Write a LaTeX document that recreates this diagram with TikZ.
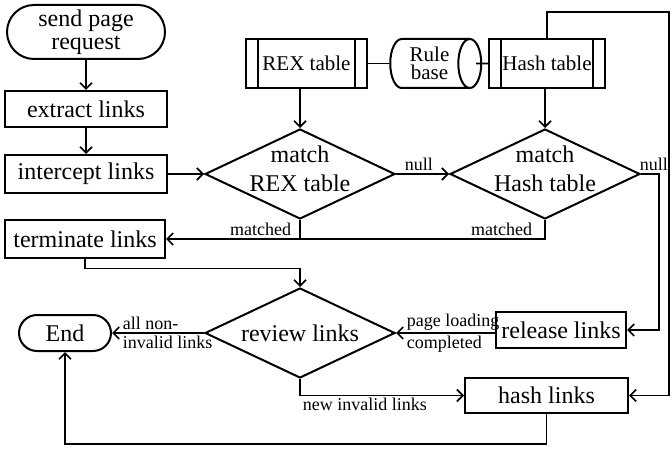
\documentclass[tikz,border=0pt]{standalone}
\usepackage{fontspec}
\setmainfont{Liberation Serif}
\usepackage{tikz}
\usetikzlibrary{shapes.geometric,shapes.misc,arrows.meta}
\definecolor{ink}{HTML}{000000}

\begin{document}
\begin{tikzpicture}[x=0.5pt, y=-0.5pt,
  box/.style={draw=ink, line width=1pt, inner sep=1pt, align=center, font=\fontsize{12}{11.5}\selectfont},
  stadium/.style={box, rounded rectangle},
  proc/.style={box, rectangle},
  decision/.style={box, diamond, inner sep=0pt, minimum width=95pt, minimum height=45pt},
  dtext/.style={align=center, inner sep=0pt, font=\fontsize{12}{14.5}\selectfont},
  predef/.style={box, font=\fontsize{10.5}{10}\selectfont, minimum width=#1, minimum height=24.5pt,
    path picture={\draw[line width=1pt]
      ([xshift=6pt]path picture bounding box.north west) -- ([xshift=6pt]path picture bounding box.south west)
      ([xshift=-6pt]path picture bounding box.north east) -- ([xshift=-6pt]path picture bounding box.south east);}},
  flow/.style={draw=ink, line width=0.85pt},
  arr/.style={flow, -{Straight Barb[length=3pt,width=6pt]}},
  lab/.style={font=\fontsize{9}{9}\selectfont, inner sep=1pt}]
  \useasboundingbox (0,0) rectangle (672,448);
  \node[stadium, minimum width=81pt, minimum height=27pt] (start) at (86,32) {send page\\request};
  \node[proc, minimum width=81pt, minimum height=18pt] (extract) at (86,109) {extract links};
  \node[proc, minimum width=81pt, minimum height=19pt] (intercept) at (86,174) {intercept links};
  \node[proc, minimum width=80pt, minimum height=18.5pt] (terminate) at (85,239) {terminate links};
  \node[predef=60.5pt] (rex) at (306.5,63.5) {REX table};
  \node[box, cylinder, aspect=0.7, inner sep=0pt, minimum width=24.5pt, minimum height=45.5pt,
    font=\fontsize{10.5}{9}\selectfont] (rule) at (429.5,63.5) {Rule\\base};
  \node[predef=58pt] (hash) at (547,63.5) {Hash table};
  \node[decision, label={[dtext, yshift=2.5pt]center:match\\REX table}] (matchrex) at (300,174) {};
  \node[decision, label={[dtext, yshift=2.5pt]center:match\\Hash table}] (matchhash) at (545,174) {};
  \node[decision, label={[dtext]center:review links}] (review) at (300,333) {};
  \node[stadium, minimum width=48pt, minimum height=18pt] (finish) at (65,333) {End};
  \node[proc, minimum width=65pt, minimum height=18pt] (release) at (561,330) {release links};
  \node[proc, minimum width=81.5pt, minimum height=17.5pt] (hashlinks) at (546.5,395.5) {hash links};
  \coordinate (corner) at (669,12);

  \draw[arr] (start) -- (extract);
  \draw[arr] (extract) -- (intercept);
  \draw[arr] (intercept) -- (matchrex);
  \draw[arr] (matchrex.north |- rex.south) -- (matchrex.north);
  \draw[arr] (matchhash.north |- hash.south) -- (matchhash.north);
  \draw[flow] (rex) -- (rule);
  \draw[flow] ([xshift=-3pt]rule.east) -- (hash.west);
  \draw[arr] (matchrex) -- node[lab, pos=0, anchor=south west, xshift=3pt] {null} (matchhash);
  \draw[arr] (matchrex.south) |- node[lab, pos=0.5, anchor=south east, xshift=-3pt] {matched} (terminate.east);
  \draw[flow] (matchhash.south) |- node[lab, pos=0.5, anchor=south east, xshift=-5pt] {matched} (matchrex.south |- terminate.east);
  \draw[arr] (terminate.south) -- ++(0,10) -| (review.north);
  \draw[arr] (release.west |- review.east) -- (review.east)
    node[lab, pos=1, anchor=south west, xshift=4pt] {page loading}
    node[lab, pos=1, anchor=north west, xshift=4pt] {completed};
  \draw[arr] (review) -- (finish)
    node[lab, pos=1, anchor=south west, xshift=4pt] {all non-}
    node[lab, pos=1, anchor=north west, xshift=4pt] {invalid links};
  \draw[arr] (review.south) |- node[lab, pos=0.5, anchor=north west] {new invalid links} (hashlinks.west);
  \draw[arr] (matchhash.east) -- ++(18,0) node[lab, pos=0, anchor=south west, xshift=-2pt] {null} |- (release.east);
  \draw[arr] (hash.north) |- (corner) |- (hashlinks.east);
  \draw[arr] (hashlinks.south) -- ++(0,30) -| (finish.south);
\end{tikzpicture}
\end{document}
